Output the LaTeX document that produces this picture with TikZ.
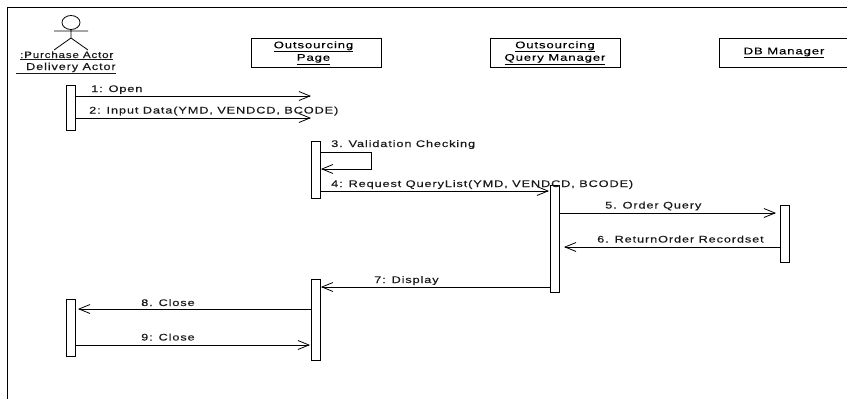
\documentclass[tikz,border=0pt]{standalone}
\usepackage{fontspec}
\setmainfont{Liberation Sans}
\newfontfamily\diafont[FakeStretch=1.33,LetterSpace=9,FakeBold=0.25]{Liberation Sans}
\newfontfamily\ttlfont[FakeStretch=1.37,LetterSpace=9,FakeBold=0.25]{Liberation Sans}
\newfontfamily\actfont[FakeStretch=1.25,LetterSpace=9,FakeBold=0.25]{Liberation Sans}
\usetikzlibrary{arrows.meta}
\newcommand{\ul}[1]{\underline{#1}}
\tikzset{x=1pt,y=-1pt,
 obj/.style={draw,line width=0.8pt,minimum width=130pt,minimum height=29pt,inner sep=0pt,align=center,font=\ttlfont\fontsize{9.6}{12.5}\selectfont,anchor=center},
 act/.style={draw,line width=0.8pt,fill=white,minimum width=9pt,inner sep=0pt,anchor=north},
 msg/.style={line width=0.9pt,-{Straight Barb[length=11pt,width=9pt,line width=0.8pt]}},
 lbl/.style={font=\diafont\fontsize{9.6}{12}\selectfont,anchor=base west,inner sep=0pt,text=black!90}}
\begin{document}
\begin{tikzpicture}
\useasboundingbox (0,0) rectangle (847,399);
\draw[line width=1pt] (7.5,399) -- (7.5,7.5) -- (847,7.5);
% actor
\draw[line width=0.8pt] (71,22.5) ellipse (9pt and 7pt);
\draw[line width=0.8pt] (71,29.5) -- (71,38) (54,31) -- (88,31) (71,38) -- (54,50) (71,38) -- (88,50);
\node[lbl,font=\actfont\fontsize{9.25}{12}\selectfont] (a1) at (20,58) {\ul{:Purchase Actor}};
\node[lbl,font=\actfont\fontsize{10.1}{12}\selectfont] (a2) at (16,70) {\ul{\hspace*{10pt}Delivery Actor}};
% objects
\node[obj] (op) at (316,53) {\ul{Outsourcing}\hspace*{5pt}\\\ul{Page}\hspace*{5pt}};
\node[obj] (oq) at (555,53) {\ul{Outsourcing}\\\ul{Query Manager}};
\node[obj] (db) at (784,53) {\ul{DB Manager}};
% activations
\node[act,minimum height=45pt] (A1) at (71,84.5) {};
\node[act,minimum height=57pt] (A2) at (316,141) {};
\node[act,minimum height=107pt] (A3) at (555,185) {};
\node[act,minimum height=57pt] (A4) at (784.5,205) {};
\node[act,minimum height=81pt] (A5) at (316,279) {};
\node[act,minimum height=57pt] (A6) at (71,298.5) {};
% free ends
\coordinate (e1) at (311,96);
\coordinate (e2) at (311,118);
\coordinate (m1) at (371,152);
\coordinate (m2) at (371,169);
\coordinate (e4) at (549,191);
\coordinate (e5) at (776,213);
\coordinate (e6) at (564,247);
\coordinate (e8) at (78,309);
\coordinate (e9) at (310,345);
% messages
\draw[msg] (A1.east |- e1) -- (e1);
\draw[msg] (A1.east |- e2) -- (e2);
\draw[msg] (A2.east |- m1) -- (m1) -- (m2) -- (A2.east |- m2);
\draw[msg] (A2.east |- e4) -- (e4);
\draw[msg] (A3.east |- e5) -- (e5);
\draw[msg] (A4.west |- e6) -- (e6);
\draw[msg] (A3.west |- 0,287) -- (A5.east |- 0,287);
\draw[msg] (A5.west |- e8) -- (e8);
\draw[msg] (A6.east |- e9) -- (e9);
% labels
\node[lbl] (l1) at (91,92) {1: Open};
\node[lbl] (l2) at (89,113.5) {2: Input Data(YMD, VENDCD, BCODE)};
\node[lbl] (l3) at (331,147) {3. Validation Checking};
\node[lbl] (l4) at (331,187) {4: Request QueryList(YMD, VENDCD, BCODE)};
\node[lbl] (l5) at (605,208.5) {5. Order Query};
\node[lbl] (l6) at (597,242.5) {6. ReturnOrder Recordset};
\node[lbl] (l7) at (374,283) {7: Display};
\node[lbl] (l8) at (141,306) {8. Close};
\node[lbl] (l9) at (141,340.5) {9: Close};
\end{tikzpicture}
\end{document}
